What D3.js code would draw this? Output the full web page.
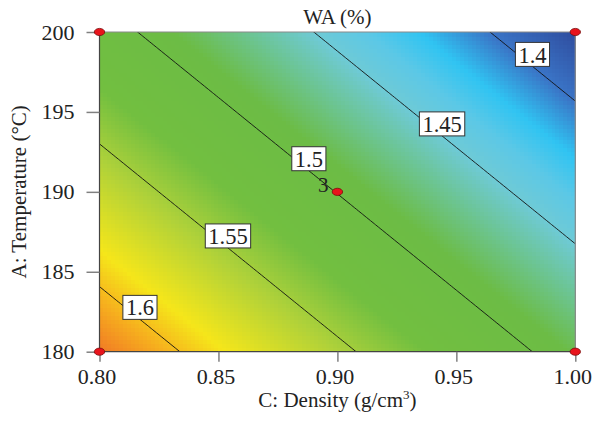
<!DOCTYPE html>
<html>
<head>
<meta charset="utf-8">
<script src="https://cdn.jsdelivr.net/npm/d3@7"></script>
<style>
  html, body { margin: 0; padding: 0; background: #fff; }
  #chart text { font-family: "Liberation Serif", "Times New Roman", serif; fill: #222; }
</style>
</head>
<body>
<div id="chart"></div>
<script>
// ---------------- data ----------------
// fitted model in coded units
const modelIntercept = 1.4993;
const modelDensity = -0.0675;      // per coded unit of C
const modelTemperature = -0.056;   // per coded unit of A
const densityRange = [0.8, 1.0];
const tempRange = [180, 200];

const xTicks = [0.8, 0.85, 0.9, 0.95, 1.0];
const yTicks = [180, 185, 190, 195, 200];
const contourLevels = [1.4, 1.45, 1.5, 1.55, 1.6];
const labelDensity = [0.982, 0.944, 0.888, 0.854, 0.817]; // where each contour label sits

const designDensity = [0.8, 1.0, 0.8, 1.0, 0.9];
const designTemp = [200, 200, 180, 180, 190];
const designCount = [1, 1, 1, 1, 3];

// colour ramp of the response
const rampValues = [1.375, 1.40, 1.42, 1.435, 1.45, 1.47, 1.49, 1.53, 1.555, 1.587, 1.605, 1.625];
const rampColors = ["#2f4c9e", "#3a74c6", "#30c4f2", "#5cc8e6", "#6ecad6", "#6cc48e", "#6cbc45", "#72bf40", "#aed13a", "#f5e61a", "#f6ae1e", "#f07226"];

// ---------------- init ----------------
const width = 592, height = 422;
const margin = { top: 32, right: 16.7, bottom: 70.3, left: 99.5 };

const svg = d3.select("#chart").append("svg")
  .attr("width", width).attr("height", height);

const x = d3.scaleLinear().domain(densityRange).range([margin.left, width - margin.right]);
const y = d3.scaleLinear().domain(tempRange).range([height - margin.bottom, margin.top]);

const wa = (d, t) => {
  const cd = (d - 0.9) / 0.1, ct = (t - 190) / 10;
  return modelIntercept + modelDensity * cd + modelTemperature * ct;
};

const color = d3.scaleLinear().domain(rampValues).range(rampColors).clamp(true);

// ---------------- surface ----------------
const nx = 120, ny = 80; // blocky raster like the original
const cellD = d3.scaleLinear().domain([0, nx]).range(densityRange);
const cellT = d3.scaleLinear().domain([0, ny]).range(tempRange);
const cells = d3.cross(d3.range(nx), d3.range(ny));

svg.append("g")
  .attr("shape-rendering", "crispEdges")
  .selectAll("rect")
  .data(cells)
  .join("rect")
  .attr("x", d => x(cellD(d[0])))
  .attr("y", d => y(cellT(d[1] + 1)))
  .attr("width", d => x(cellD(d[0] + 1)) - x(cellD(d[0])) + 0.6)
  .attr("height", d => y(cellT(d[1])) - y(cellT(d[1] + 1)) + 0.6)
  .attr("fill", d => color(wa(cellD(d[0] + 0.5), cellT(d[1] + 0.5))));

// ---------------- contour lines ----------------
// grid a little wider than the plot so the polygon edges fall outside the clip
const gn = 121, gm = 121;
const gD = d3.scaleLinear().domain([0.5, gn - 0.5]).range([0.78, 1.02]);
const gT = d3.scaleLinear().domain([0.5, gm - 0.5]).range([178, 202]);
const grid = new Array(gn * gm);
for (let j = 0; j < gm; j++)
  for (let i = 0; i < gn; i++) grid[j * gn + i] = wa(gD(i + 0.5), gT(j + 0.5));

const contours = d3.contours().size([gn, gm]).thresholds(contourLevels)(grid);
const proj = d3.geoTransform({
  point: function (px, py) { this.stream.point(x(gD(px)), y(gT(py))); }
});

svg.append("clipPath").attr("id", "plot-clip")
  .append("rect")
  .attr("x", margin.left).attr("y", margin.top)
  .attr("width", width - margin.left - margin.right)
  .attr("height", height - margin.top - margin.bottom);

svg.append("g")
  .attr("clip-path", "url(#plot-clip)")
  .selectAll("path")
  .data(contours)
  .join("path")
  .attr("d", d3.geoPath(proj))
  .attr("fill", "none")
  .attr("stroke", "#111")
  .attr("stroke-width", 0.9);

// ---------------- frame & axes ----------------
const frame = svg.append("g");
frame.append("line").attr("x1", x(0.8)).attr("x2", x(1)).attr("y1", y(200)).attr("y2", y(200))
  .attr("stroke", "#8a8a8a").attr("stroke-width", 1.2);
frame.append("line").attr("x1", x(1)).attr("x2", x(1)).attr("y1", y(200)).attr("y2", y(180))
  .attr("stroke", "#8a8a8a").attr("stroke-width", 1.2);
frame.append("line").attr("x1", x(0.8)).attr("x2", x(0.8)).attr("y1", y(200)).attr("y2", y(180))
  .attr("stroke", "#444").attr("stroke-width", 1.2);
frame.append("line").attr("x1", x(0.8)).attr("x2", x(1)).attr("y1", y(180)).attr("y2", y(180))
  .attr("stroke", "#444").attr("stroke-width", 1.2);

const xAxis = svg.append("g")
  .attr("transform", `translate(0,${y(180)})`)
  .call(d3.axisBottom(x).tickValues(xTicks).tickFormat(d3.format(".2f")).tickSize(10).tickPadding(7));
const yAxis = svg.append("g")
  .attr("transform", `translate(${x(0.8)},0)`)
  .call(d3.axisLeft(y).tickValues(yTicks).tickFormat(d3.format("d")).tickSize(13).tickPadding(12));

[xAxis, yAxis].forEach(a => {
  a.select(".domain").remove();
  a.selectAll(".tick line").attr("stroke", "#808080").attr("stroke-width", 1.5);
  a.selectAll(".tick text").attr("font-size", 22).attr("fill", "#222")
    .style("font-family", '"Liberation Serif", serif');
});
xAxis.selectAll(".tick text").attr("dx", -3);

// titles
svg.append("text")
  .attr("x", (x(0.8) + x(1)) / 2).attr("y", 24)
  .attr("text-anchor", "middle").attr("font-size", 21)
  .text("WA (%)");

const xTitle = svg.append("text")
  .attr("x", (x(0.8) + x(1)) / 2).attr("y", 407)
  .attr("text-anchor", "middle").attr("font-size", 21)
  .text("C: Density (g/cm");
xTitle.append("tspan").attr("font-size", 13).attr("dy", -8).text("3");
xTitle.append("tspan").attr("dy", 8).text(")");

svg.append("text")
  .attr("transform", `translate(26,${(y(180) + y(200)) / 2}) rotate(-90)`)
  .attr("text-anchor", "middle").attr("font-size", 21)
  .text("A: Temperature (°C)");

// ---------------- contour labels ----------------
const labelData = contourLevels.map((lv, i) => {
  const d = labelDensity[i];
  const cd = (d - 0.9) / 0.1;
  const ct = (lv - modelIntercept - modelDensity * cd) / modelTemperature;
  return { level: lv, px: x(d), py: y(190 + ct * 10) - 12 };
});

const lab = svg.append("g").selectAll("g").data(labelData).join("g")
  .attr("transform", d => `translate(${d.px},${d.py})`);
lab.append("text")
  .attr("text-anchor", "middle").attr("dy", "0.36em").attr("font-size", 22.5)
  .text(d => d3.format("")(d.level));
lab.each(function () {
  const g = d3.select(this);
  const bb = g.select("text").node().getBBox();
  g.insert("rect", "text")
    .attr("x", bb.x - 3).attr("y", -12)
    .attr("width", bb.width + 6).attr("height", 24)
    .attr("fill", "#fff").attr("stroke", "#333").attr("stroke-width", 1);
});

// ---------------- design points ----------------
const pts = designDensity.map((d, i) => ({ d, t: designTemp[i], n: designCount[i] }));
svg.append("g").selectAll("ellipse").data(pts).join("ellipse")
  .attr("cx", d => x(d.d)).attr("cy", d => y(d.t))
  .attr("rx", 5.2).attr("ry", 3.6)
  .attr("fill", "#e8141c").attr("stroke", "#7a0a0a").attr("stroke-width", 0.8);

svg.append("g").selectAll("text").data(pts.filter(d => d.n > 1)).join("text")
  .attr("x", d => x(d.d) - 9).attr("y", d => y(d.t) + 0.5)
  .attr("text-anchor", "end").attr("font-size", 21)
  .text(d => d.n);
</script>
</body>
</html>
